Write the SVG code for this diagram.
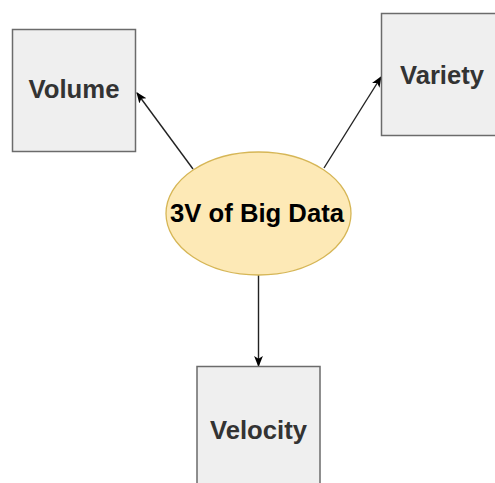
<svg xmlns="http://www.w3.org/2000/svg" width="495" height="483" viewBox="0 0 495 483">
  <style>
    .box { fill: #efefef; stroke: #6b6b6b; stroke-width: 1.5; }
    .lbl { font-family: "Liberation Sans", Arial, sans-serif; font-weight: bold; font-size: 25px; fill: #333333; text-anchor: middle; }
    .center { fill: #000000; }
    .edge { stroke: #222222; stroke-width: 1.4; fill: none; marker-end: url(#arrow); }
  </style>
  <defs>
    <marker id="arrow" viewBox="0 0 10 10" refX="9" refY="5" markerWidth="11" markerHeight="11" markerUnits="userSpaceOnUse" orient="auto">
      <path d="M0,1 L10,5 L0,9 L2.5,5 Z" fill="#000000"/>
    </marker>
  </defs>
  <rect width="495" height="483" fill="#ffffff"/>
  <g id="connectors">
    <line class="edge" x1="193" y1="169" x2="137" y2="93"/>
    <line class="edge" x1="324" y1="168" x2="381" y2="77"/>
    <line class="edge" x1="258.5" y1="275" x2="258.5" y2="366"/>
  </g>
  <g id="volume">
    <rect class="box" x="12.5" y="29.5" width="123" height="122"/>
    <text class="lbl" x="74" y="98" textLength="91" lengthAdjust="spacingAndGlyphs">Volume</text>
  </g>
  <g id="variety">
    <rect class="box" x="381.5" y="13.5" width="124" height="122"/>
    <text class="lbl" x="442" y="84" textLength="84" lengthAdjust="spacingAndGlyphs">Variety</text>
  </g>
  <g id="center">
    <ellipse cx="258.5" cy="213.5" rx="92.5" ry="61.5" fill="#fde9b6" stroke="#d6b656" stroke-width="1.3"/>
    <text class="lbl center" x="257" y="221.5" textLength="174" lengthAdjust="spacingAndGlyphs">3V of Big Data</text>
  </g>
  <g id="velocity">
    <rect class="box" x="197" y="366.5" width="123" height="130"/>
    <text class="lbl" x="258.5" y="439" textLength="97" lengthAdjust="spacingAndGlyphs">Velocity</text>
  </g>
</svg>
